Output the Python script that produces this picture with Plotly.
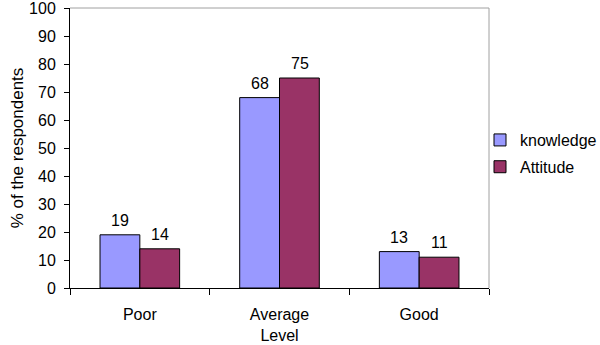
import plotly.graph_objects as go

categories = ["Poor", "Average<br>Level", "Good"]
knowledge = [19, 68, 13]
attitude = [14, 75, 11]
series_names = ["knowledge", "Attitude"]
y_ticks = list(range(0, 101, 10))

FONT = "Liberation Sans, Arial, sans-serif"

fig = go.Figure()
fig.add_trace(go.Bar(
    x=categories, y=knowledge, name=series_names[0], legendgroup="a",
    marker=dict(color="#9999FF", line=dict(color="black", width=1)),
))
fig.add_trace(go.Bar(
    x=categories, y=attitude, name=series_names[1], legendgroup="b",
    marker=dict(color="#993366", line=dict(color="black", width=1)),
))

# value labels above bars (from the data arrays)
annotations = []
for vals, dx in ((knowledge, -20), (attitude, 20)):
    for c, v in zip(categories, vals):
        annotations.append(dict(
            x=c, y=v, xref="x", yref="y", text=str(v), showarrow=False,
            xshift=dx, yshift=4, yanchor="bottom",
            font=dict(size=16, color="black", family=FONT),
        ))

fig.update_layout(
    width=600, height=345,
    margin=dict(l=70, r=111, t=8, b=57, autoexpand=False),
    paper_bgcolor="white", plot_bgcolor="white",
    font=dict(family=FONT, size=16, color="black"),
    barmode="group", bargap=0.43, bargroupgap=0,
    showlegend=True,
    legend=dict(xref="container", yref="container", x=0.8, xanchor="left",
                y=0.555, yanchor="middle",
                font=dict(size=16), traceorder="grouped", tracegroupgap=3,
                bgcolor="rgba(0,0,0,0)"),
    xaxis=dict(showline=True, linecolor="black", linewidth=1,
               ticks="outside", ticklen=6, tickcolor="black",
               tickson="boundaries", showgrid=False, automargin=False,
               ticklabelstandoff=12, tickfont=dict(size=16)),
    yaxis=dict(range=[0, 100], tickvals=y_ticks, showline=True,
               linecolor="black", linewidth=1, ticks="outside", ticklen=5,
               tickcolor="black", showgrid=False, zeroline=False,
               automargin=False, ticklabeloverflow="allow",
               ticklabelstandoff=5, tickfont=dict(size=16),
               title=dict(text="% of the respondents", font=dict(size=17),
                          standoff=1)),
    annotations=annotations,
    shapes=[
        dict(type="line", xref="paper", yref="paper", x0=0, x1=1, y0=1, y1=1,
             line=dict(color="#A0A0A0", width=1)),
        dict(type="line", xref="paper", yref="paper", x0=1, x1=1, y0=0, y1=1,
             line=dict(color="#A0A0A0", width=1)),
    ],
)

fig.write_html("out.html", config={"displayModeBar": False},
               post_script="document.body.style.margin='0';")
